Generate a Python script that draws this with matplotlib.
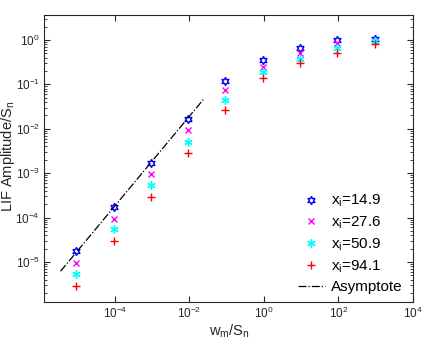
import matplotlib
matplotlib.use("Agg")
import matplotlib.pyplot as plt
import matplotlib.ticker as mticker

plt.rcParams['font.family'] = ['Liberation Sans', 'DejaVu Sans']
plt.rcParams['mathtext.fontset'] = 'custom'
plt.rcParams['mathtext.rm'] = 'Liberation Sans'
plt.rcParams['mathtext.it'] = 'Liberation Sans'

# data
w_ratio = [9.3e-6, 9.3e-5, 9.3e-4, 9.3e-3, 9.3e-2, 0.93, 9.3, 93, 930]
amp_149 = [1.74e-5, 1.69e-4, 1.69e-3, 1.69e-2, 0.119, 0.354, 0.65, 0.97, 1.03]
amp_276 = [9.6e-6, 9.5e-5, 9.5e-4, 9.5e-3, 0.075, 0.25, 0.5, 0.87, 0.95]
amp_509 = [5.25e-6, 5.4e-5, 5.4e-4, 5.1e-3, 0.045, 0.19, 0.37, 0.67, 0.92]
amp_941 = [2.9e-6, 2.9e-5, 2.9e-4, 2.9e-3, 0.026, 0.14, 0.3, 0.5, 0.79]
asym_x = [3.5e-6, 2.5e-2]
asym_y = [6.2e-6, 4.8e-2]
labels = ['x$_\\mathrm{i}$=14.9', 'x$_\\mathrm{i}$=27.6', 'x$_\\mathrm{i}$=50.9', 'x$_\\mathrm{i}$=94.1']
x_ticks = [1e-4, 1e-2, 1e0, 1e2, 1e4]
y_ticks = [1e-5, 1e-4, 1e-3, 1e-2, 1e-1, 1e0]

W, H = 443, 344
fig = plt.figure(figsize=(W / 100, H / 100), dpi=100)
ax = fig.add_axes([44 / W, 42 / H, 369 / W, 287 / H])

ms = 6
ax.plot(w_ratio, amp_149, linestyle='none', marker=(6, 1, 0), markersize=ms,
        markerfacecolor='none', markeredgecolor='blue', markeredgewidth=1.0, label=labels[0])
ax.plot(w_ratio, amp_276, linestyle='none', marker='x', markersize=5,
        color='magenta', markeredgewidth=1.0, label=labels[1])
ax.plot(w_ratio, amp_509, linestyle='none', marker=(6, 2, 0), markersize=ms,
        color='cyan', markeredgewidth=1.0, label=labels[2])
ax.plot(w_ratio, amp_941, linestyle='none', marker='+', markersize=ms,
        color='red', markeredgewidth=1.0, label=labels[3])
ax.plot(asym_x, asym_y, 'k-.', linewidth=0.9, label='Asymptote')

ax.set_xscale('log')
ax.set_yscale('log')
ax.set_xlim(10 ** -5.9, 1e4)
ax.set_ylim(10 ** -5.9, 10 ** 0.56)

ax.xaxis.set_major_locator(mticker.FixedLocator(x_ticks))
ax.xaxis.set_minor_locator(mticker.NullLocator())
ax.yaxis.set_major_locator(mticker.FixedLocator(y_ticks))
ax.yaxis.set_minor_locator(mticker.LogLocator(base=10, subs=range(2, 10), numticks=12))
ax.yaxis.set_minor_formatter(mticker.NullFormatter())

ax.tick_params(which='both', direction='in', top=True, right=True, labelsize=8.5, colors='#262626')
ax.tick_params(which='major', length=4, pad=3)
ax.tick_params(which='minor', length=2)
for s in ax.spines.values():
    s.set_linewidth(0.8)
    s.set_color('#262626')

# axis labels placed by hand so they stay inside the small canvas
fig.text(229 / W, 1 - 331 / H, 'w$_\\mathrm{m}$/S$_\\mathrm{n}$', fontsize=10.5,
         ha='center', va='center', color='#262626')
fig.text(8 / W, 1 - 156 / H, 'LIF Amplitude/S$_\\mathrm{n}$', fontsize=10.5,
         rotation=90, ha='center', va='center', color='#262626')

ax.legend(loc='lower right', frameon=False, fontsize=11, handlelength=1.8,
          handletextpad=0.4, labelspacing=0.35, bbox_to_anchor=(1.01, -0.02))

fig.savefig('out.png', dpi=100)
